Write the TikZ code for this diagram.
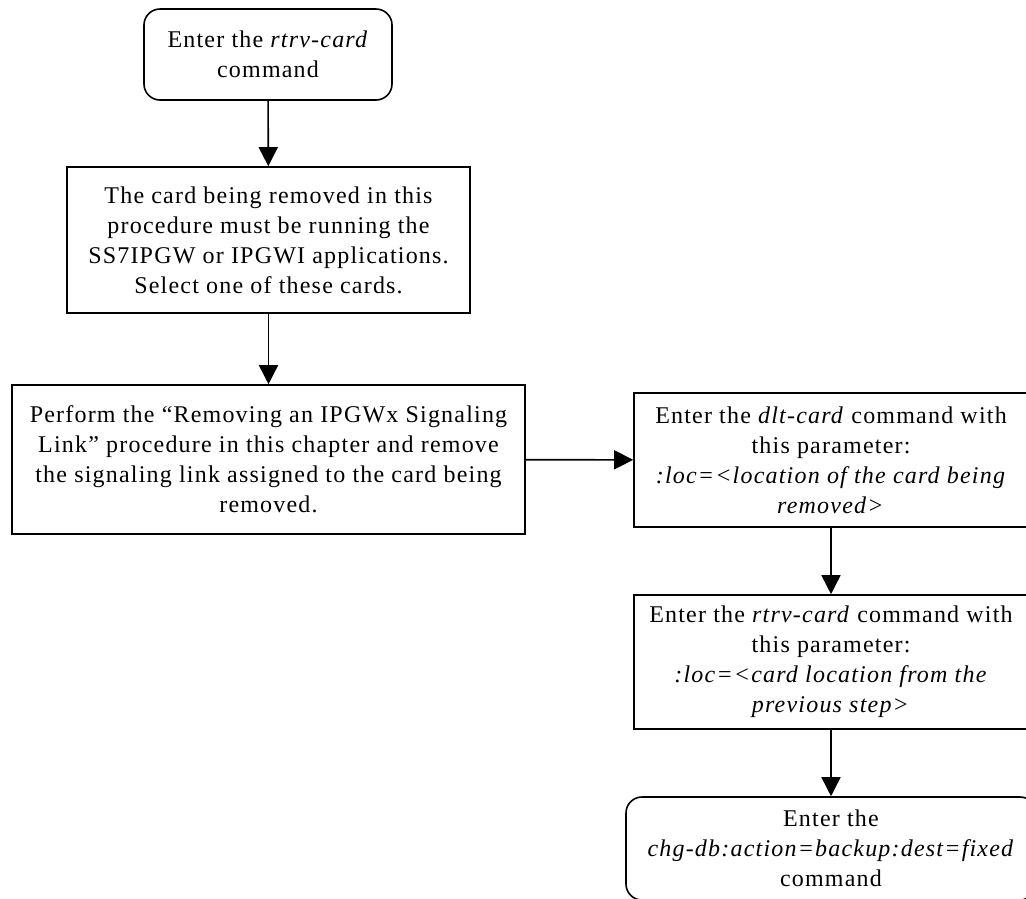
\documentclass[tikz,border=0pt]{standalone}
\usepackage{fontspec}
\setmainfont{Liberation Serif}[LetterSpace=5]
\usetikzlibrary{arrows.meta}
\begin{document}
\begin{tikzpicture}[x=1pt,y=-1pt,
  box/.style={draw, line width=1.6pt, align=center, inner sep=0pt, font=\fontsize{24}{30}\selectfont},
  term/.style={box, rounded corners=16pt},
  flow/.style={line width=1.6pt, -{Triangle[length=19pt,width=19pt]}}]
\useasboundingbox (0,0) rectangle (1026,898);
\node[term, minimum width=248pt, minimum height=91pt] (start) at (268,54.5) {Enter the \textit{rtrv-card}\\command};
\node[box, minimum width=403pt, minimum height=146pt] (select) at (268.5,240) {The card being removed in this\\procedure must be running the\\SS7IPGW or IPGWI applications.\\Select one of these cards.};
\node[box, minimum width=513pt, minimum height=149pt] (perform) at (268.5,459.5) {Perform the “Removing an IPGWx Signaling\\Link” procedure in this chapter and remove\\the signaling link assigned to the card being\\removed.};
\node[box, minimum width=394pt, minimum height=134pt] (dlt) at (831,460) {Enter the \textit{dlt-card} command with\\this parameter:\\\textit{:loc=<location of the card being}\\\textit{removed>}};
\node[box, minimum width=394pt, minimum height=134pt] (rtrv) at (831,662) {Enter the \textit{rtrv-card} command with\\this parameter:\\\textit{:loc=<card location from the}\\\textit{previous step>}};
\node[term, minimum width=410pt, minimum height=103pt] (backup) at (831,848.5) {Enter the\\\textit{chg-db:action=backup:dest=fixed}\\command};
\draw[flow] (start) -- (select);
\draw[flow] (select) -- (perform);
\draw[flow] (perform) -- (dlt);
\draw[flow] (dlt) -- (rtrv);
\draw[flow] (rtrv) -- (backup);
\end{tikzpicture}
\end{document}
